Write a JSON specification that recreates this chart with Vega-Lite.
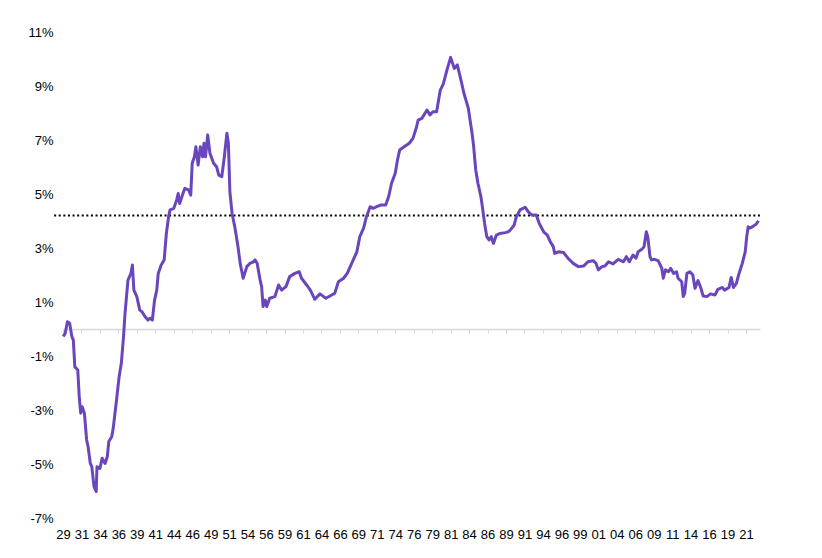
{
  "$schema": "https://vega.github.io/schema/vega-lite/v6.json",
  "width": 697,
  "height": 486,
  "autosize": {"type": "none"},
  "padding": {"left": 63, "top": 32, "right": 62, "bottom": 40},
  "background": "white",
  "config": {
    "view": {"stroke": null},
    "axis": {"labelFont": "Liberation Sans", "labelFontSize": 13, "labelColor": "#000000", "grid": false, "title": null}
  },
  "datasets": {
    "series": [
      {"year": 1929.04, "value": -0.28}, {"year": 1929.3, "value": -0.16}, {"year": 1929.6, "value": 0.27}, {"year": 1929.9, "value": 0.21},
      {"year": 1930.2, "value": -0.28}, {"year": 1930.4, "value": -0.41}, {"year": 1930.6, "value": -1.4}, {"year": 1931.0, "value": -1.52},
      {"year": 1931.2, "value": -2.51}, {"year": 1931.4, "value": -3.12}, {"year": 1931.6, "value": -2.88}, {"year": 1931.9, "value": -3.12},
      {"year": 1932.2, "value": -4.11}, {"year": 1932.4, "value": -4.36}, {"year": 1932.7, "value": -4.98}, {"year": 1932.9, "value": -5.1},
      {"year": 1933.2, "value": -5.84}, {"year": 1933.5, "value": -6.02}, {"year": 1933.6, "value": -5.1}, {"year": 1934.0, "value": -5.16},
      {"year": 1934.3, "value": -4.79}, {"year": 1934.7, "value": -4.98}, {"year": 1935.0, "value": -4.73}, {"year": 1935.2, "value": -4.17},
      {"year": 1935.6, "value": -3.99}, {"year": 1935.8, "value": -3.68}, {"year": 1936.3, "value": -2.51}, {"year": 1936.6, "value": -1.77},
      {"year": 1936.9, "value": -1.27}, {"year": 1937.2, "value": -0.28}, {"year": 1937.4, "value": 0.58}, {"year": 1937.6, "value": 1.2},
      {"year": 1937.8, "value": 1.81}, {"year": 1938.2, "value": 2.06}, {"year": 1938.4, "value": 2.37}, {"year": 1938.6, "value": 1.44},
      {"year": 1939.0, "value": 1.2}, {"year": 1939.4, "value": 0.7}, {"year": 1939.7, "value": 0.64}, {"year": 1940.1, "value": 0.46},
      {"year": 1940.5, "value": 0.33}, {"year": 1940.8, "value": 0.4}, {"year": 1941.1, "value": 0.33}, {"year": 1941.4, "value": 1.07},
      {"year": 1941.7, "value": 1.44}, {"year": 1941.9, "value": 2.06}, {"year": 1942.3, "value": 2.37}, {"year": 1942.7, "value": 2.56},
      {"year": 1943.0, "value": 3.54}, {"year": 1943.3, "value": 4.16}, {"year": 1943.5, "value": 4.41}, {"year": 1944.0, "value": 4.47},
      {"year": 1944.4, "value": 4.78}, {"year": 1944.6, "value": 5.02}, {"year": 1944.8, "value": 4.65}, {"year": 1945.1, "value": 4.9},
      {"year": 1945.5, "value": 5.21}, {"year": 1946.0, "value": 5.15}, {"year": 1946.3, "value": 4.96}, {"year": 1946.5, "value": 6.14},
      {"year": 1946.8, "value": 6.38}, {"year": 1947.0, "value": 6.75}, {"year": 1947.3, "value": 6.07}, {"year": 1947.6, "value": 6.75},
      {"year": 1947.9, "value": 6.38}, {"year": 1948.1, "value": 6.88}, {"year": 1948.3, "value": 6.38}, {"year": 1948.6, "value": 7.19},
      {"year": 1948.9, "value": 6.51}, {"year": 1949.4, "value": 6.14}, {"year": 1949.8, "value": 6.01}, {"year": 1950.1, "value": 5.7},
      {"year": 1950.5, "value": 5.64}, {"year": 1950.8, "value": 6.26}, {"year": 1951.2, "value": 7.25}, {"year": 1951.4, "value": 6.88},
      {"year": 1951.6, "value": 5.09}, {"year": 1951.9, "value": 4.28}, {"year": 1952.3, "value": 3.73}, {"year": 1952.7, "value": 3.05},
      {"year": 1953.0, "value": 2.43}, {"year": 1953.4, "value": 1.88}, {"year": 1953.9, "value": 2.31}, {"year": 1954.3, "value": 2.43},
      {"year": 1954.8, "value": 2.49}, {"year": 1955.0, "value": 2.56}, {"year": 1955.3, "value": 2.43}, {"year": 1955.7, "value": 1.81},
      {"year": 1955.9, "value": 1.57}, {"year": 1956.1, "value": 0.83}, {"year": 1956.4, "value": 1.07}, {"year": 1956.6, "value": 0.83},
      {"year": 1957.0, "value": 1.14}, {"year": 1957.7, "value": 1.2}, {"year": 1958.2, "value": 1.63}, {"year": 1958.6, "value": 1.44},
      {"year": 1959.2, "value": 1.57}, {"year": 1959.7, "value": 1.94}, {"year": 1960.4, "value": 2.06}, {"year": 1961.0, "value": 2.12},
      {"year": 1961.3, "value": 1.88}, {"year": 1962.0, "value": 1.63}, {"year": 1962.5, "value": 1.44}, {"year": 1963.1, "value": 1.1},
      {"year": 1963.8, "value": 1.3}, {"year": 1964.6, "value": 1.14}, {"year": 1965.4, "value": 1.26}, {"year": 1965.8, "value": 1.32},
      {"year": 1966.3, "value": 1.75}, {"year": 1967.0, "value": 1.88}, {"year": 1967.5, "value": 2.06}, {"year": 1968.1, "value": 2.43},
      {"year": 1968.8, "value": 2.86}, {"year": 1969.2, "value": 3.42}, {"year": 1969.7, "value": 3.73}, {"year": 1970.1, "value": 4.16},
      {"year": 1970.6, "value": 4.53}, {"year": 1971.0, "value": 4.47}, {"year": 1971.5, "value": 4.53}, {"year": 1972.0, "value": 4.59},
      {"year": 1972.7, "value": 4.59}, {"year": 1973.1, "value": 4.9}, {"year": 1973.5, "value": 5.4}, {"year": 1974.0, "value": 5.77},
      {"year": 1974.3, "value": 6.26}, {"year": 1974.6, "value": 6.63}, {"year": 1975.2, "value": 6.75}, {"year": 1975.9, "value": 6.88},
      {"year": 1976.4, "value": 7.06}, {"year": 1976.9, "value": 7.5}, {"year": 1977.1, "value": 7.74}, {"year": 1977.6, "value": 7.8},
      {"year": 1978.3, "value": 8.11}, {"year": 1978.7, "value": 7.93}, {"year": 1979.1, "value": 8.05}, {"year": 1979.6, "value": 8.05},
      {"year": 1980.1, "value": 8.85}, {"year": 1980.5, "value": 9.07}, {"year": 1981.0, "value": 9.59}, {"year": 1981.5, "value": 10.06},
      {"year": 1982.0, "value": 9.65}, {"year": 1982.4, "value": 9.78}, {"year": 1982.9, "value": 9.22}, {"year": 1983.3, "value": 8.73},
      {"year": 1983.9, "value": 8.17}, {"year": 1984.4, "value": 7.25}, {"year": 1984.6, "value": 6.81}, {"year": 1984.9, "value": 5.89},
      {"year": 1985.2, "value": 5.4}, {"year": 1985.6, "value": 4.9}, {"year": 1985.8, "value": 4.53}, {"year": 1986.1, "value": 3.91},
      {"year": 1986.4, "value": 3.42}, {"year": 1986.7, "value": 3.3}, {"year": 1987.0, "value": 3.42}, {"year": 1987.3, "value": 3.17},
      {"year": 1987.7, "value": 3.48}, {"year": 1988.2, "value": 3.54}, {"year": 1988.9, "value": 3.57}, {"year": 1989.3, "value": 3.6},
      {"year": 1989.6, "value": 3.67}, {"year": 1990.1, "value": 3.85}, {"year": 1990.4, "value": 4.16}, {"year": 1990.9, "value": 4.41},
      {"year": 1991.6, "value": 4.51}, {"year": 1992.0, "value": 4.35}, {"year": 1992.5, "value": 4.22}, {"year": 1993.1, "value": 4.22},
      {"year": 1993.5, "value": 3.91}, {"year": 1994.1, "value": 3.6}, {"year": 1994.6, "value": 3.48}, {"year": 1995.0, "value": 3.23},
      {"year": 1995.4, "value": 3.05}, {"year": 1995.6, "value": 2.8}, {"year": 1996.1, "value": 2.86}, {"year": 1996.8, "value": 2.83},
      {"year": 1997.4, "value": 2.62}, {"year": 1998.1, "value": 2.43}, {"year": 1998.8, "value": 2.31}, {"year": 1999.5, "value": 2.33},
      {"year": 2000.1, "value": 2.49}, {"year": 2000.8, "value": 2.53}, {"year": 2001.2, "value": 2.43}, {"year": 2001.5, "value": 2.19},
      {"year": 2002.0, "value": 2.31}, {"year": 2002.4, "value": 2.33}, {"year": 2002.9, "value": 2.49}, {"year": 2003.5, "value": 2.41},
      {"year": 2004.2, "value": 2.58}, {"year": 2004.9, "value": 2.49}, {"year": 2005.3, "value": 2.68}, {"year": 2005.7, "value": 2.49},
      {"year": 2006.2, "value": 2.74}, {"year": 2006.6, "value": 2.62}, {"year": 2006.9, "value": 2.86}, {"year": 2007.4, "value": 2.95},
      {"year": 2007.7, "value": 3.05}, {"year": 2008.0, "value": 3.6}, {"year": 2008.2, "value": 3.42}, {"year": 2008.5, "value": 2.68},
      {"year": 2008.7, "value": 2.56}, {"year": 2009.1, "value": 2.58}, {"year": 2009.6, "value": 2.53}, {"year": 2010.1, "value": 2.25},
      {"year": 2010.3, "value": 1.88}, {"year": 2010.6, "value": 2.19}, {"year": 2011.0, "value": 2.12}, {"year": 2011.3, "value": 2.25},
      {"year": 2011.7, "value": 2.06}, {"year": 2012.1, "value": 2.12}, {"year": 2012.3, "value": 1.88}, {"year": 2012.8, "value": 1.75},
      {"year": 2013.0, "value": 1.2}, {"year": 2013.2, "value": 1.32}, {"year": 2013.5, "value": 2.06}, {"year": 2013.9, "value": 2.12},
      {"year": 2014.3, "value": 2.0}, {"year": 2014.6, "value": 1.51}, {"year": 2015.0, "value": 1.79}, {"year": 2015.4, "value": 1.51},
      {"year": 2015.7, "value": 1.22}, {"year": 2016.2, "value": 1.2}, {"year": 2016.7, "value": 1.3}, {"year": 2017.3, "value": 1.26},
      {"year": 2017.7, "value": 1.47}, {"year": 2018.3, "value": 1.54}, {"year": 2018.6, "value": 1.44}, {"year": 2019.2, "value": 1.54},
      {"year": 2019.5, "value": 1.91}, {"year": 2019.8, "value": 1.54}, {"year": 2020.2, "value": 1.69}, {"year": 2020.5, "value": 2.0},
      {"year": 2021.0, "value": 2.43}, {"year": 2021.4, "value": 2.86}, {"year": 2021.6, "value": 3.42}, {"year": 2021.8, "value": 3.79},
      {"year": 2022.0, "value": 3.73}, {"year": 2022.5, "value": 3.81}, {"year": 2022.9, "value": 3.89}, {"year": 2023.2, "value": 4.01}
    ],
    "average": [{"start": 1927.8, "end": 2023.5, "avg": 4.2}]
  },
  "layer": [
    {
      "data": {"name": "average"},
      "mark": {"type": "rule", "color": "#000000", "strokeWidth": 2, "strokeDash": [2, 2.6]},
      "encoding": {
        "x": {
          "field": "start", "type": "quantitative",
          "scale": {"domain": [1929, 2023.4], "nice": false, "zero": false},
          "axis": {
            "orient": "bottom", "offset": -189, "labels": false,
            "values": [1929, 1931.5, 1934, 1936.5, 1939, 1941.5, 1944, 1946.5, 1949, 1951.5, 1954, 1956.5, 1959, 1961.5, 1964, 1966.5, 1969, 1971.5, 1974, 1976.5, 1979, 1981.5, 1984, 1986.5, 1989, 1991.5, 1994, 1996.5, 1999, 2001.5, 2004, 2006.5, 2009, 2011.5, 2014, 2016.5, 2019, 2021.5],
            "domainColor": "#d9d9d9", "domainWidth": 1.5, "tickColor": "#d9d9d9", "tickSize": 4, "tickWidth": 1
          }
        },
        "x2": {"field": "end"},
        "y": {
          "field": "avg", "type": "quantitative",
          "scale": {"domain": [-7, 11], "nice": false, "zero": false}
        }
      }
    },
    {
      "data": {"name": "series"},
      "mark": {"type": "line", "color": "#6a46bd", "strokeWidth": 3, "strokeJoin": "round"},
      "encoding": {
        "x": {
          "field": "year", "type": "quantitative",
          "scale": {"domain": [1929, 2023.4], "nice": false, "zero": false},
          "axis": {
            "orient": "bottom", "domain": false, "ticks": false, "labelPadding": 10,
            "labelFlush": false, "labelOverlap": false,
            "values": [1929, 1931.5, 1934, 1936.5, 1939, 1941.5, 1944, 1946.5, 1949, 1951.5, 1954, 1956.5, 1959, 1961.5, 1964, 1966.5, 1969, 1971.5, 1974, 1976.5, 1979, 1981.5, 1984, 1986.5, 1989, 1991.5, 1994, 1996.5, 1999, 2001.5, 2004, 2006.5, 2009, 2011.5, 2014, 2016.5, 2019, 2021.5],
            "labelExpr": "format(floor(datum.value) % 100, '02d')"
          }
        },
        "y": {
          "field": "value", "type": "quantitative",
          "scale": {"domain": [-7, 11], "nice": false, "zero": false},
          "axis": {
            "domain": false, "ticks": false, "labelPadding": 10,
            "values": [-7, -5, -3, -1, 1, 3, 5, 7, 9, 11],
            "labelExpr": "datum.value + '%'"
          }
        }
      }
    }
  ],
  "resolve": {"axis": {"x": "independent"}}
}
